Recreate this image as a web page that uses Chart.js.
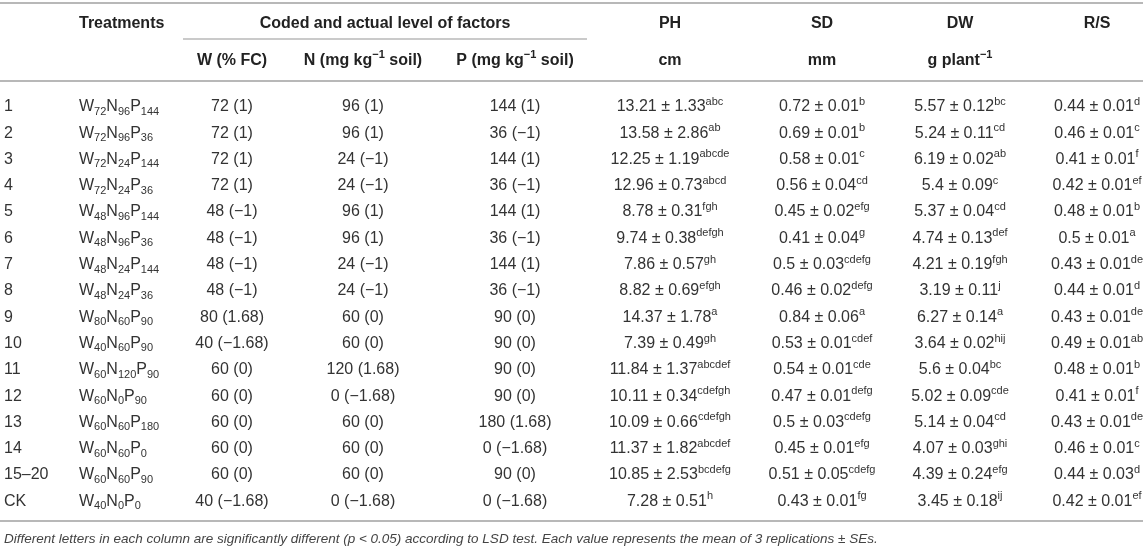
<!DOCTYPE html>
<html>
<head>
<meta charset="utf-8">
<script src="https://cdn.jsdelivr.net/npm/chart.js@4.4.1/dist/chart.umd.min.js"></script>
<style>
  html, body { margin: 0; padding: 0; background: #fff; }
  #wrap { width: 1143px; height: 548px; }
</style>
</head>
<body>
<div id="wrap"><canvas id="tableChart"></canvas></div>
<script>
/* ---- data ---- */
const rowIds = ["1", "2", "3", "4", "5", "6", "7", "8", "9", "10", "11", "12", "13", "14", "15–20", "CK"];
const treatments = [
  "W_{72}N_{96}P_{144}", "W_{72}N_{96}P_{36}", "W_{72}N_{24}P_{144}", "W_{72}N_{24}P_{36}",
  "W_{48}N_{96}P_{144}", "W_{48}N_{96}P_{36}", "W_{48}N_{24}P_{144}", "W_{48}N_{24}P_{36}",
  "W_{80}N_{60}P_{90}", "W_{40}N_{60}P_{90}", "W_{60}N_{120}P_{90}", "W_{60}N_{0}P_{90}",
  "W_{60}N_{60}P_{180}", "W_{60}N_{60}P_{0}", "W_{60}N_{60}P_{90}", "W_{40}N_{0}P_{0}"
];
const wLevel = ["72 (1)", "72 (1)", "72 (1)", "72 (1)", "48 (−1)", "48 (−1)", "48 (−1)", "48 (−1)",
  "80 (1.68)", "40 (−1.68)", "60 (0)", "60 (0)", "60 (0)", "60 (0)", "60 (0)", "40 (−1.68)"];
const nLevel = ["96 (1)", "96 (1)", "24 (−1)", "24 (−1)", "96 (1)", "96 (1)", "24 (−1)", "24 (−1)",
  "60 (0)", "60 (0)", "120 (1.68)", "0 (−1.68)", "60 (0)", "60 (0)", "60 (0)", "0 (−1.68)"];
const pLevel = ["144 (1)", "36 (−1)", "144 (1)", "36 (−1)", "144 (1)", "36 (−1)", "144 (1)", "36 (−1)",
  "90 (0)", "90 (0)", "90 (0)", "90 (0)", "180 (1.68)", "0 (−1.68)", "90 (0)", "0 (−1.68)"];

const phMean = [13.21, 13.58, 12.25, 12.96, 8.78, 9.74, 7.86, 8.82, 14.37, 7.39, 11.84, 10.11, 10.09, 11.37, 10.85, 7.28];
const phSE = [1.33, 2.86, 1.19, 0.73, 0.31, 0.38, 0.57, 0.69, 1.78, 0.49, 1.37, 0.34, 0.66, 1.82, 2.53, 0.51];
const phLetters = ["abc", "ab", "abcde", "abcd", "fgh", "defgh", "gh", "efgh", "a", "gh", "abcdef", "cdefgh", "cdefgh", "abcdef", "bcdefg", "h"];

const sdMean = [0.72, 0.69, 0.58, 0.56, 0.45, 0.41, 0.5, 0.46, 0.84, 0.53, 0.54, 0.47, 0.5, 0.45, 0.51, 0.43];
const sdSE = [0.01, 0.01, 0.01, 0.04, 0.02, 0.04, 0.03, 0.02, 0.06, 0.01, 0.01, 0.01, 0.03, 0.01, 0.05, 0.01];
const sdLetters = ["b", "b", "c", "cd", "efg", "g", "cdefg", "defg", "a", "cdef", "cde", "defg", "cdefg", "efg", "cdefg", "fg"];

const dwMean = [5.57, 5.24, 6.19, 5.4, 5.37, 4.74, 4.21, 3.19, 6.27, 3.64, 5.6, 5.02, 5.14, 4.07, 4.39, 3.45];
const dwSE = [0.12, 0.11, 0.02, 0.09, 0.04, 0.13, 0.19, 0.11, 0.14, 0.02, 0.04, 0.09, 0.04, 0.03, 0.24, 0.18];
const dwLetters = ["bc", "cd", "ab", "c", "cd", "def", "fgh", "j", "a", "hij", "bc", "cde", "cd", "ghi", "efg", "ij"];

const rsMean = [0.44, 0.46, 0.41, 0.42, 0.48, 0.5, 0.43, 0.44, 0.43, 0.49, 0.48, 0.41, 0.43, 0.46, 0.44, 0.42];
const rsSE = [0.01, 0.01, 0.01, 0.01, 0.01, 0.01, 0.01, 0.01, 0.01, 0.01, 0.01, 0.01, 0.01, 0.01, 0.03, 0.01];
const rsLetters = ["d", "c", "f", "ef", "b", "a", "de", "d", "de", "ab", "b", "f", "de", "c", "d", "ef"];

const groupHeader = "Coded and actual level of factors";
const headerTop = ["Treatments", "", "", "", "PH", "SD", "DW", "R/S"];
const headerSub = ["", "W (% FC)", "N (mg kg^{−1} soil)", "P (mg kg^{−1} soil)", "cm", "mm", "g plant^{−1}", ""];
const footnote = "Different letters in each column are significantly different (p < 0.05) according to LSD test. Each value represents the mean of 3 replications ± SEs.";

/* ---- layout ---- */
const colPos = { id: 4, trt: 79, w: 232, n: 363, p: 515, ph: 670, sd: 822, dw: 960, rs: 1097 };
const FONT = "'Liberation Sans', Arial, Helvetica, sans-serif";
const TEXT = "#333";
const HEAD = "#222";
const RULE = "#b8b8b8";

const fmt = (m, s, l) => m.map((v, i) => String(v) + " ± " + String(s[i]) + "^{" + l[i] + "}");

const columns = [
  { key: "id", align: "left", cells: rowIds },
  { key: "trt", align: "left", cells: treatments },
  { key: "w", align: "center", cells: wLevel },
  { key: "n", align: "center", cells: nLevel },
  { key: "p", align: "center", cells: pLevel },
  { key: "ph", align: "center", cells: fmt(phMean, phSE, phLetters) },
  { key: "sd", align: "center", cells: fmt(sdMean, sdSE, sdLetters) },
  { key: "dw", align: "center", cells: fmt(dwMean, dwSE, dwLetters) },
  { key: "rs", align: "center", cells: fmt(rsMean, rsSE, rsLetters) }
];

/* rich text: ^{..} superscript, _{..} subscript */
function parseRich(str) {
  const out = [];
  const re = /([\^_])\{([^}]*)\}/g;
  let last = 0, m;
  while ((m = re.exec(str)) !== null) {
    if (m.index > last) out.push({ t: str.slice(last, m.index), mode: "n" });
    out.push({ t: m[2], mode: m[1] === "^" ? "sup" : "sub" });
    last = re.lastIndex;
  }
  if (last < str.length) out.push({ t: str.slice(last), mode: "n" });
  return out;
}

function drawRich(ctx, str, x, y, align, opts) {
  const size = opts.size || 16;
  const weight = opts.bold ? "bold " : "";
  const style = opts.italic ? "italic " : "";
  const segs = parseRich(str);
  const fontFor = mode => style + weight + (mode === "n" ? size : Math.round(size * 0.66)) + "px " + FONT;
  let total = 0;
  segs.forEach(s => { ctx.font = fontFor(s.mode); s.w = ctx.measureText(s.t).width; total += s.w; });
  let cx = align === "center" ? x - total / 2 : (align === "right" ? x - total : x);
  ctx.fillStyle = opts.color || TEXT;
  ctx.textAlign = "left";
  ctx.textBaseline = "alphabetic";
  const base = y + size * 0.36;
  segs.forEach(s => {
    ctx.font = fontFor(s.mode);
    let dy = 0;
    if (s.mode === "sup") dy = -size * 0.4;
    if (s.mode === "sub") dy = size * 0.22;
    ctx.fillText(s.t, cx, base + dy);
    cx += s.w;
  });
}

const tablePlugin = {
  id: "tablePlugin",
  afterDatasetsDraw(chart) {
    const ctx = chart.ctx;
    const xs = chart.scales.x;
    const W = chart.width;
    ctx.save();

    // rules
    const rule = (x1, x2, y, lw) => {
      ctx.strokeStyle = RULE; ctx.lineWidth = lw;
      ctx.beginPath(); ctx.moveTo(x1, y); ctx.lineTo(x2, y); ctx.stroke();
    };
    rule(0, W, 3, 2);
    rule(183, 587, 39, 1.5);
    rule(0, W, 81, 2);
    rule(0, W, 521, 2);

    // headers
    const keys = ["trt", "w", "n", "p", "ph", "sd", "dw", "rs"];
    keys.forEach((k, i) => {
      const al = k === "trt" ? "left" : "center";
      const x = xs.getPixelForValue(colPos[k]);
      if (headerTop[i]) drawRich(ctx, headerTop[i], x, 22, al, { bold: true, color: HEAD });
      if (headerSub[i]) drawRich(ctx, headerSub[i], x, 59, al, { bold: true, color: HEAD });
    });
    drawRich(ctx, groupHeader, (xs.getPixelForValue(183) + xs.getPixelForValue(587)) / 2, 22, "center", { bold: true, color: HEAD });

    // cells, placed from each dataset's own points
    chart.data.datasets.forEach((ds, di) => {
      const meta = chart.getDatasetMeta(di);
      meta.data.forEach((pt, i) => {
        drawRich(ctx, ds.cells[i], pt.x, pt.y, ds.align, { color: TEXT });
      });
    });

    // footnote
    drawRich(ctx, footnote, 4, 538, "left", { italic: true, size: 13.5, color: "#444" });
    ctx.restore();
  }
};

new Chart(document.getElementById("tableChart").getContext("2d"), {
  type: "scatter",
  data: {
    datasets: columns.map(c => ({
      label: c.key,
      align: c.align,
      cells: c.cells,
      data: rowIds.map(r => ({ x: colPos[c.key], y: r })),
      pointRadius: 0,
      pointHoverRadius: 0
    }))
  },
  options: {
    responsive: true,
    maintainAspectRatio: false,
    animation: false,
    events: [],
    layout: { padding: { top: 92.35, bottom: 34.85, left: 0, right: 0 } },
    plugins: { legend: { display: false }, tooltip: { enabled: false } },
    scales: {
      x: { type: "linear", min: 0, max: 1143, display: false },
      y: { type: "category", labels: rowIds, offset: true, display: false }
    }
  },
  plugins: [tablePlugin]
});
</script>
</body>
</html>
